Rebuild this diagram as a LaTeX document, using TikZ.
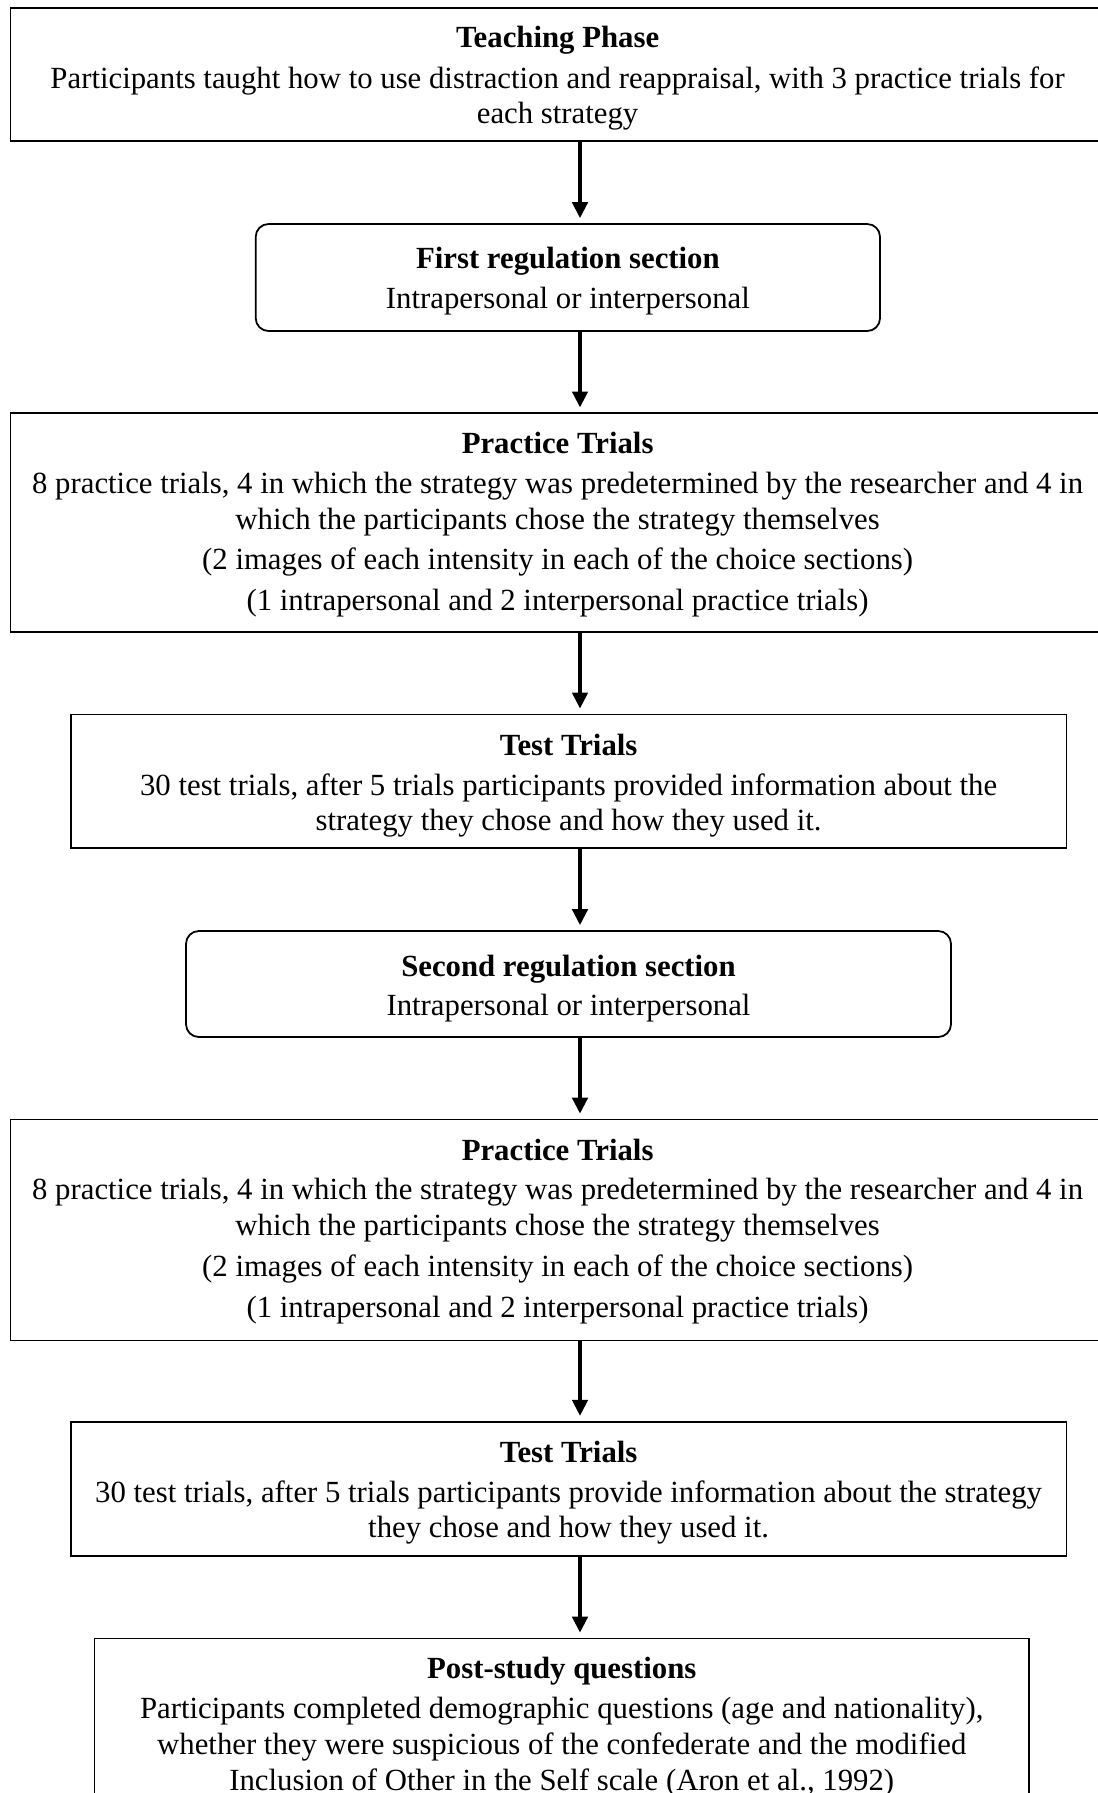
\documentclass[tikz,border=0pt]{standalone}
\usepackage{fontspec}
\setmainfont{Liberation Serif}
\usetikzlibrary{arrows.meta}
\tikzset{
  sqbox/.style={draw=black, line width=0.7pt, inner sep=0pt, outer sep=0pt, rectangle},
  rndbox/.style={sqbox, rounded corners=5pt},
  txt/.style={anchor=base, inner sep=0pt, outer sep=0pt, font=\fontsize{12}{14}\selectfont},
  ttl/.style={txt, font=\fontsize{12}{14}\selectfont\bfseries},
  arr/.style={line width=1.3pt, -{Triangle[length=6.2pt,width=6pt]}, shorten >=2.3pt}
}
\begin{document}
\begin{tikzpicture}[x=0.39pt,y=-0.39pt]
\useasboundingbox (0,0) rectangle (1098,1793);
\coordinate (ax) at (580,0);
% Box 1
\node[sqbox, minimum width=1094.2*0.39pt, minimum height=133*0.39pt] (b1) at (557.6,74.5) {};
\node[ttl] (t1a) at (557.6,47.5) {Teaching Phase};
\node[txt] (t1b) at (557.6,88.5) {Participants taught how to use distraction and reappraisal, with 3 practice trials for};
\node[txt] (t1c) at (557.6,123) {each strategy};
% Box 2
\node[rndbox, minimum width=624.3*0.39pt, minimum height=107*0.39pt] (b2) at (567.85,277.5) {};
\node[ttl] (t2a) at (567.9,268) {First regulation section};
\node[txt] (t2b) at (567.9,308) {Intrapersonal or interpersonal};
% Box 3
\node[sqbox, minimum width=1094.2*0.39pt, minimum height=219*0.39pt] (b3) at (557.6,522.8) {};
\node[ttl] (t3a) at (557.6,453.8) {Practice Trials};
\node[txt] (t3b) at (557.6,493.3) {8 practice trials, 4 in which the strategy was predetermined by the researcher and 4 in};
\node[txt] (t3c) at (557.6,529) {which the participants chose the strategy themselves};
\node[txt] (t3d) at (557.6,569.5) {(2 images of each intensity in each of the choice sections)};
\node[txt] (t3e) at (557.6,610.5) {(1 intrapersonal and 2 interpersonal practice trials)};
% Box 4
\node[sqbox, minimum width=995.8*0.39pt, minimum height=133.8*0.39pt] (b4) at (568.6,781.3) {};
\node[ttl] (t4a) at (568.6,755.5) {Test Trials};
\node[txt] (t4b) at (568.6,795.3) {30 test trials, after 5 trials participants provided information about the};
\node[txt] (t4c) at (568.6,830.3) {strategy they chose and how they used it.};
% Box 5
\node[rndbox, minimum width=765*0.39pt, minimum height=106*0.39pt] (b5) at (568.5,984) {};
\node[ttl] (t5a) at (568.5,976) {Second regulation section};
\node[txt] (t5b) at (568.5,1015.5) {Intrapersonal or interpersonal};
% Box 6
\node[sqbox, minimum width=1094.2*0.39pt, minimum height=221*0.39pt] (b6) at (557.6,1230) {};
\node[ttl] (t6a) at (557.6,1160.3) {Practice Trials};
\node[txt] (t6b) at (557.6,1199.8) {8 practice trials, 4 in which the strategy was predetermined by the researcher and 4 in};
\node[txt] (t6c) at (557.6,1235.5) {which the participants chose the strategy themselves};
\node[txt] (t6d) at (557.6,1276) {(2 images of each intensity in each of the choice sections)};
\node[txt] (t6e) at (557.6,1317) {(1 intrapersonal and 2 interpersonal practice trials)};
% Box 7
\node[sqbox, minimum width=995.8*0.39pt, minimum height=134.3*0.39pt] (b7) at (568.6,1488.85) {};
\node[ttl] (t7a) at (568.6,1462.5) {Test Trials};
\node[txt] (t7b) at (568.6,1502.3) {30 test trials, after 5 trials participants provide information about the strategy};
\node[txt] (t7c) at (568.6,1537.3) {they chose and how they used it.};
% Box 8
\node[sqbox, minimum width=934.5*0.39pt, minimum height=171.5*0.39pt] (b8) at (561.75,1724.25) {};
\node[ttl] (t8a) at (561.75,1678.5) {Post-study questions};
\node[txt] (t8b) at (561.75,1718.5) {Participants completed demographic questions (age and nationality),};
\node[txt] (t8c) at (561.75,1754) {whether they were suspicious of the confederate and the modified};
\node[txt] (t8d) at (561.75,1790) {Inclusion of Other in the Self scale (Aron et al., 1992)};
% Arrows
\draw[arr] (b1.south -| ax) -- (b2.north -| ax);
\draw[arr] (b2.south -| ax) -- (b3.north -| ax);
\draw[arr] (b3.south -| ax) -- (b4.north -| ax);
\draw[arr] (b4.south -| ax) -- (b5.north -| ax);
\draw[arr] (b5.south -| ax) -- (b6.north -| ax);
\draw[arr] (b6.south -| ax) -- (b7.north -| ax);
\draw[arr] (b7.south -| ax) -- (b8.north -| ax);
\end{tikzpicture}
\end{document}
